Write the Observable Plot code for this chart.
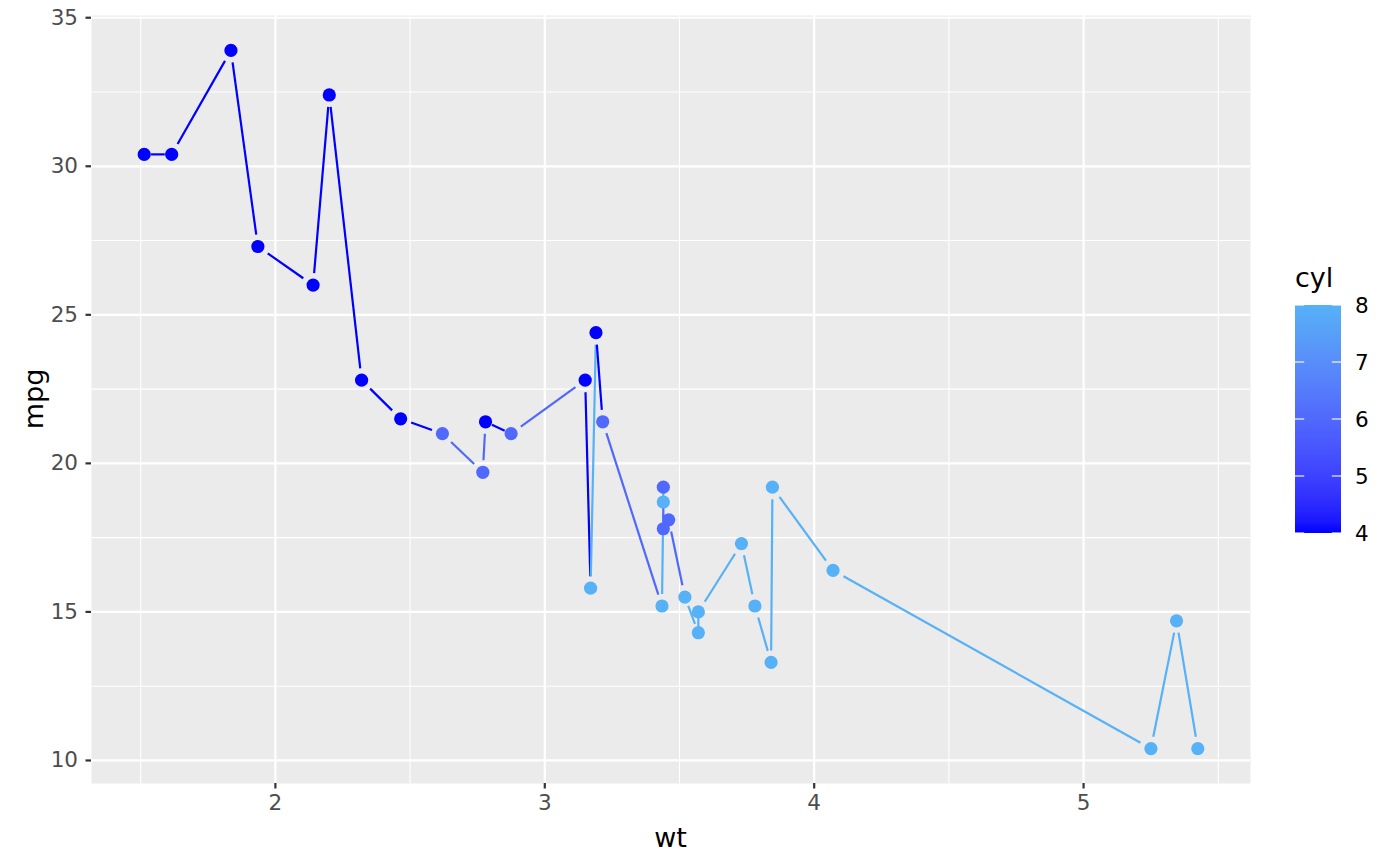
<!DOCTYPE html>
<html><head><meta charset="utf-8">
<script src="https://cdn.jsdelivr.net/npm/d3@7"></script>
<script src="https://cdn.jsdelivr.net/npm/@observablehq/plot@0.6"></script>
<style>body{margin:0;background:#fff} svg{display:block}</style>
</head><body><div id="chart"></div>
<script>
// mtcars (original row order)
const wt  = [2.620,2.875,2.320,3.215,3.440,3.460,3.570,3.190,3.150,3.440,3.440,4.070,3.730,3.780,5.250,5.424,5.345,2.200,1.615,1.835,2.465,3.520,3.435,3.840,3.845,1.935,2.140,1.513,3.170,2.770,3.570,2.780];
const mpg = [21.0,21.0,22.8,21.4,18.7,18.1,14.3,24.4,22.8,19.2,17.8,16.4,17.3,15.2,10.4,10.4,14.7,32.4,30.4,33.9,21.5,15.5,15.2,13.3,19.2,27.3,26.0,30.4,15.8,19.7,15.0,21.4];
const cyl = [6,6,4,6,8,6,8,4,4,6,6,8,8,8,8,8,8,4,4,4,4,8,8,8,8,4,4,4,8,6,8,4];
const xTicks = [2,3,4,5];
const xMinor = [1.5,2.5,3.5,4.5,5.5];
const yTicks = [10,15,20,25,30,35];
const yMinor = [12.5,17.5,22.5,27.5,32.5];
const legendTicks = [4,5,6,7,8];

const W = 1400, H = 866;
const mL = 91, mR = 150, mT = 15, mB = 83;
const xDomain = [1.3174, 5.6196];
const yDomain = [9.225, 35.075];
const colorRange = ["#0000FF", "#56B1F7"];
const tickFont = 21.5, titleFont = 27;

const rows = wt.map((w, i) => ({wt: w, mpg: mpg[i], cyl: cyl[i]}));
const sorted = rows.map((r, i) => [r, i]).sort((a, b) => a[0].wt - b[0].wt || a[1] - b[1]).map(d => d[0]);

// helper scales only to size the gaps between line ends and points
const px = d3.scaleLinear(xDomain, [mL, W - mR]);
const py = d3.scaleLinear(yDomain, [H - mB, mT]);
const segs = [];
for (let i = 0; i < sorted.length - 1; i++) {
  const a = sorted[i], b = sorted[i + 1];
  const len = Math.hypot(px(b.wt) - px(a.wt), py(b.mpg) - py(a.mpg));
  segs.push({x1: a.wt, y1: a.mpg, x2: b.wt, y2: b.mpg, cyl: a.cyl, gap: Math.min(12, 0.25 * len)});
}

const font = "DejaVu Sans, sans-serif";
const plot = Plot.plot({
  width: W, height: H,
  marginLeft: mL, marginRight: mR, marginTop: mT, marginBottom: mB,
  style: {fontFamily: font, fontSize: tickFont + "px", background: "#fff", overflow: "visible"},
  x: {domain: xDomain, label: null},
  y: {domain: yDomain, label: null},
  color: {type: "linear", domain: [4, 8], range: colorRange, interpolate: "lab"},
  marks: [
    Plot.frame({fill: "#EBEBEB"}),
    Plot.ruleX(xMinor, {stroke: "#fff", strokeWidth: 1.1}),
    Plot.ruleY(yMinor, {stroke: "#fff", strokeWidth: 1.1}),
    Plot.ruleX(xTicks, {stroke: "#fff", strokeWidth: 2.2}),
    Plot.ruleY(yTicks, {stroke: "#fff", strokeWidth: 2.2}),
    Plot.axisX({ticks: xTicks, tickFormat: d3.format("d"), tickSize: 5.5, tickPadding: 6, fontSize: tickFont, stroke: "#333333", fill: "#4D4D4D", strokeWidth: 2.2, label: null}),
    Plot.axisY({ticks: yTicks, tickFormat: d3.format("d"), tickSize: 5.5, tickPadding: 8, fontSize: tickFont, stroke: "#333333", fill: "#4D4D4D", strokeWidth: 2.2, label: null}),
    ...segs.map(s => Plot.arrow([s], {x1: "x1", y1: "y1", x2: "x2", y2: "y2", stroke: "cyl", strokeWidth: 2.2, headLength: 0, inset: s.gap})),
    Plot.dot(rows, {x: "wt", y: "mpg", fill: "cyl", r: 6.6, stroke: "none"})
  ]
});

const svg = d3.select(plot);
svg.selectAll("g[aria-label='arrow']").attr("stroke-linecap", "butt");
// axis titles
svg.append("text").attr("x", (mL + W - mR) / 2).attr("y", 847).attr("text-anchor", "middle")
  .attr("font-family", font).style("font-size", titleFont + "px").attr("fill", "#000").text("wt");
svg.append("text").attr("transform", `translate(43,${(mT + H - mB) / 2}) rotate(-90)`).attr("text-anchor", "middle")
  .attr("font-family", font).style("font-size", titleFont + "px").attr("fill", "#000").text("mpg");

// colour bar legend
const cs = plot.scale("color");
const color = d3.scaleLinear(cs.domain, cs.range).interpolate(d3.interpolateLab);
const bx = 1295, bw = 46, bTop = 305, bBot = 533;
const ly = d3.scaleLinear([4, 8], [bBot, bTop]);
const grad = svg.append("defs").append("linearGradient").attr("id", "cbar")
  .attr("x1", 0).attr("y1", 1).attr("x2", 0).attr("y2", 0);
d3.range(0, 1.0001, 0.05).forEach(t => grad.append("stop").attr("offset", t).attr("stop-color", color(4 + 4 * t)));
const lg = svg.append("g").attr("text-anchor", "start");
lg.append("text").attr("x", bx).attr("y", 287).attr("text-anchor", "start").attr("font-family", font).style("font-size", titleFont + "px").attr("fill", "#000").text("cyl");
lg.append("rect").attr("x", bx).attr("y", bTop).attr("width", bw).attr("height", bBot - bTop).attr("fill", "url(#cbar)");
legendTicks.forEach(v => {
  const y = ly(v);
  lg.append("line").attr("x1", bx).attr("x2", bx + 9.2).attr("y1", y).attr("y2", y).attr("stroke", "#fff").attr("stroke-width", 1.1);
  lg.append("line").attr("x1", bx + bw - 9.2).attr("x2", bx + bw).attr("y1", y).attr("y2", y).attr("stroke", "#fff").attr("stroke-width", 1.1);
  lg.append("text").attr("x", bx + bw + 14).attr("y", y).attr("dy", "0.36em").attr("text-anchor", "start").attr("font-family", font).style("font-size", tickFont + "px").attr("fill", "#000").text(v);
});

document.getElementById("chart").appendChild(plot);
</script>
</body></html>
